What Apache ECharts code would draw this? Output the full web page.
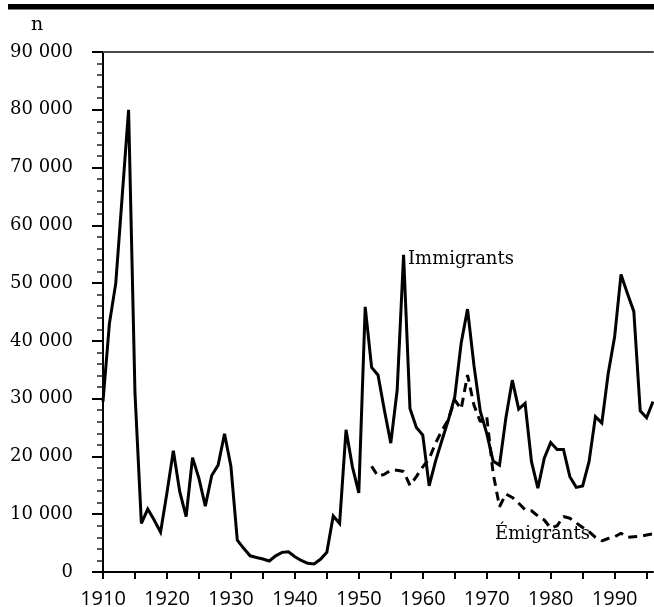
<!DOCTYPE html>
<html>
<head>
<meta charset="utf-8">
<script src="https://cdn.jsdelivr.net/npm/echarts@6/dist/echarts.min.js"></script>
<style>
  html, body { margin: 0; padding: 0; background: #fff; }
  #main { width: 654px; height: 607px; }
</style>
</head>
<body>
<div id="main"></div>
<script>
// annual counts
const immigrantYears = [
  1910, 1911, 1912, 1913, 1914, 1915, 1916, 1917, 1918, 1919,
  1920, 1921, 1922, 1923, 1924, 1925, 1926, 1927, 1928, 1929,
  1930, 1931, 1932, 1933, 1934, 1935, 1936, 1937, 1938, 1939,
  1940, 1941, 1942, 1943, 1944, 1945, 1946, 1947, 1948, 1949,
  1950, 1951, 1952, 1953, 1954, 1955, 1956, 1957, 1958, 1959,
  1960, 1961, 1962, 1963, 1964, 1965, 1966, 1967, 1968, 1969,
  1970, 1971, 1972, 1973, 1974, 1975, 1976, 1977, 1978, 1979,
  1980, 1981, 1982, 1983, 1984, 1985, 1986, 1987, 1988, 1989,
  1990, 1991, 1992, 1993, 1994, 1995, 1996
];
const immigrants = [
  29500, 43000, 50000, 65000, 80000, 31000, 8400, 10900, 9000, 6900,
  13700, 21000, 13900, 9600, 19800, 16200, 11400, 16700, 18500, 23900,
  18300, 5500, 4100, 2800, 2500, 2250, 1900, 2800, 3400, 3500,
  2650, 2000, 1500, 1400, 2200, 3400, 9700, 8400, 24600, 18200,
  13700, 45900, 35400, 34100, 28000, 22300, 31500, 54900, 28300, 25000,
  23700, 14900, 19200, 22800, 26300, 30300, 39600, 45500, 35800, 27800,
  24000, 19200, 18500, 26700, 33200, 28200, 29200, 19100, 14500, 19700,
  22400, 21200, 21200, 16500, 14650, 14900, 19100, 26900, 25800, 34400,
  40700, 51500, 48200, 45100, 27900, 26700, 29500
];

const emigrantYears = [
  1952, 1953, 1954, 1955, 1956, 1957, 1958, 1959,
  1960, 1961, 1962, 1963, 1964, 1965, 1966, 1967, 1968, 1969,
  1970, 1971, 1972, 1973, 1974, 1975, 1976, 1977, 1978, 1979,
  1980, 1981, 1982, 1983, 1984, 1985, 1986, 1987, 1988, 1989,
  1990, 1991, 1992, 1993, 1994, 1995, 1996
];
const emigrants = [
  18300, 16600, 16900, 17600, 17600, 17400, 15000, 16500,
  18200, 19600, 22300, 24500, 26400, 29800, 28200, 34100, 28900, 26000,
  26900, 17100, 11300, 13500, 12900, 11900, 10800, 10600, 9700, 9000,
  7600, 8000, 9600, 9300, 8500, 7700, 7000, 6000, 5400, 5800,
  6100, 6700, 6000, 6100, 6200, 6400, 6600
];

const xTickYears = [1910, 1915, 1920, 1925, 1930, 1935, 1940, 1945, 1950, 1955,
  1960, 1965, 1970, 1975, 1980, 1985, 1990, 1995];
const xLabelYears = [1910, 1920, 1930, 1940, 1950, 1960, 1970, 1980, 1990];

const serif = '"DejaVu Serif", serif';

let myChart = echarts.init(document.getElementById('main'));

let option = {
  animation: false,
  backgroundColor: '#fff',
  grid: { left: 103, right: 1, top: 52, bottom: 35, outerBoundsMode: 'none' },
  xAxis: [
    {
      type: 'value',
      min: 1910,
      max: 1996,
      splitLine: { show: false },
      axisLine: { lineStyle: { color: '#000', width: 2 } },
      axisTick: { customValues: xTickYears, length: 7, lineStyle: { color: '#000', width: 2 } },
      axisLabel: {
        customValues: xLabelYears,
        margin: 17,
        color: '#000',
        fontFamily: '"Open Sans", sans-serif',
        fontSize: 20,
        formatter: v => String(v)
      }
    },
    {
      // frame line on top of the plot
      type: 'value',
      position: 'top',
      min: 1910,
      max: 1996,
      splitLine: { show: false },
      axisLine: { show: true, lineStyle: { color: '#4a4a4a', width: 2 } },
      axisTick: { show: false },
      axisLabel: { show: false }
    }
  ],
  yAxis: {
    type: 'value',
    min: 0,
    max: 90000,
    interval: 10000,
    splitLine: { show: false },
    axisLine: { show: true, lineStyle: { color: '#000', width: 2 } },
    axisTick: { show: true, length: 11, lineStyle: { color: '#000', width: 2 } },
    minorTick: { show: true, splitNumber: 5, length: 6, lineStyle: { color: '#222', width: 1.5 } },
    axisLabel: {
      margin: 30,
      color: '#000',
      fontFamily: serif,
      fontSize: 18,
      formatter: v => v === 0 ? '0' : String(v).replace(/\B(?=(\d{3})+(?!\d))/g, ' ')
    }
  },
  series: [
    {
      name: 'Immigrants',
      type: 'line',
      data: immigrantYears.map((y, i) => [y, immigrants[i]]),
      showSymbol: false,
      lineStyle: { color: '#000', width: 3, join: 'miter', miterLimit: 4 }
    },
    {
      name: 'Émigrants',
      type: 'line',
      data: emigrantYears.map((y, i) => [y, emigrants[i]]),
      showSymbol: false,
      lineStyle: { color: '#000', width: 3, type: [9, 6] }
    }
  ],
  graphic: [
    { type: 'rect', left: 8, top: 4, shape: { width: 646, height: 5.5 }, style: { fill: '#000' } },
    { type: 'text', left: 31, top: 16, style: { text: 'n', font: '19px ' + serif, fill: '#000' } },
    { type: 'text', left: 408, top: 250, style: { text: 'Immigrants', font: '18px ' + serif, fill: '#000' } },
    { type: 'text', left: 495, top: 525, style: { text: 'Émigrants', font: '18px ' + serif, fill: '#000' } }
  ]
};

myChart.setOption(option);
</script>
</body>
</html>
